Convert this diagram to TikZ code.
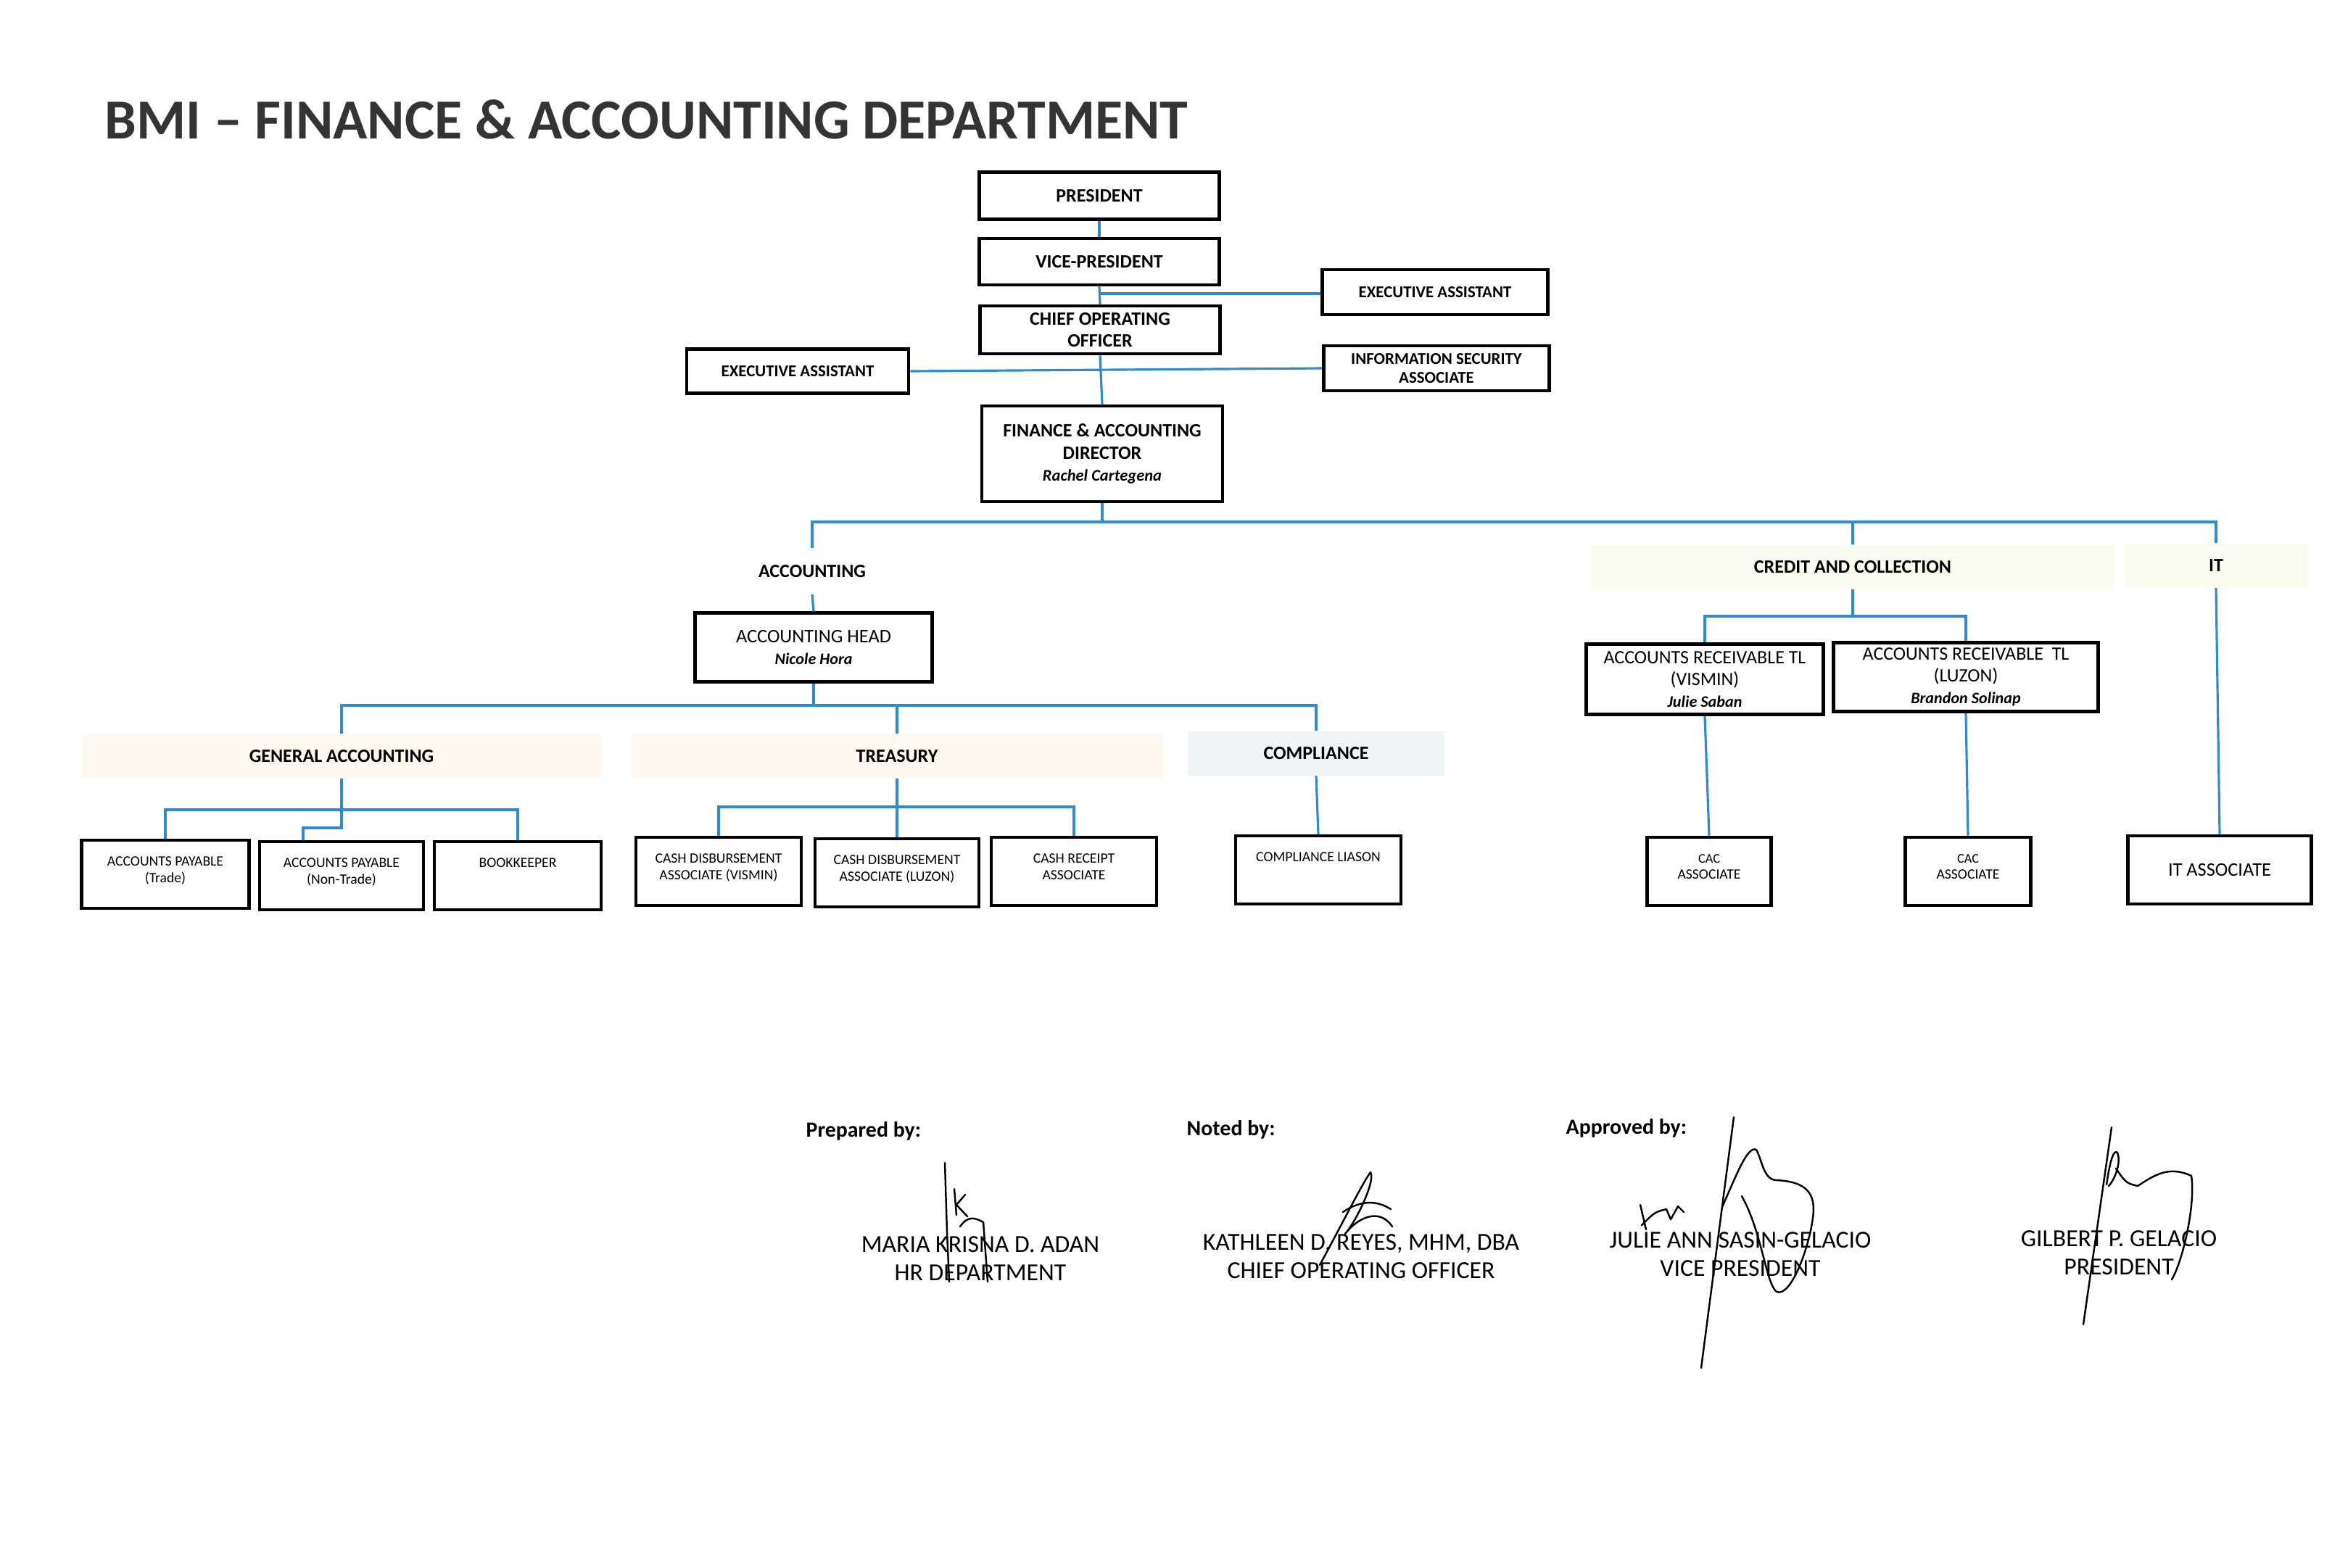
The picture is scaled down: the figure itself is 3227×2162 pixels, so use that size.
\documentclass[tikz,border=0pt]{standalone}
\usepackage{fontspec}
\setmainfont{Carlito}
\usetikzlibrary{calc}

\definecolor{lnkblue}{RGB}{46,139,208}
\definecolor{titlegray}{RGB}{52,52,52}
\definecolor{peachfill}{RGB}{254,248,241}
\definecolor{mistfill}{RGB}{239,244,246}
\definecolor{creamfill}{RGB}{252,251,242}

\begin{document}
\begin{tikzpicture} [x=0.1mm, y=-0.1mm,
  box/.style 2 args={draw, line width=1.3pt, minimum width=#1*0.1mm, minimum height=#2*0.1mm, inner sep=1pt, align=center},
  band/.style 2 args={fill=#1, minimum width=#2*0.1mm, minimum height=6.1mm, inner sep=0pt, font=\bfseries\fontsize{7.4}{8.5}\selectfont},
  hdtxt/.style={font=\bfseries\fontsize{7.4}{8.7}\selectfont},
  smtxt/.style={font=\bfseries\fontsize{6.5}{7.6}\selectfont},
  lowlbl/.style={anchor=north, yshift=-1.3mm, align=center, font=\fontsize{5.6}{6.5}\selectfont},
  lowbox/.style={label={[lowlbl]north:{#1}}},
  lnk/.style={draw=lnkblue, line width=0.9pt},
  sig/.style={line width=0.7pt, line cap=round, line join=round}]

\useasboundingbox (0,0) rectangle (3227,2162);

\node[anchor=west, inner sep=0pt, text=titlegray, font=\bfseries\fontsize{22.2}{27}\selectfont] (title) at (144,165) {BMI – FINANCE \& ACCOUNTING DEPARTMENT};

\node[box={331}{65}, hdtxt] (pres) at (1516,270) {PRESIDENT};
\node[box={331}{64}, hdtxt] (vp) at (1516,361) {VICE-PRESIDENT};
\node[box={331}{66}, hdtxt] (coo) at (1517,455) {CHIEF OPERATING\\OFFICER};
\node[box={311}{62}, smtxt] (eaR) at (1979,403) {EXECUTIVE ASSISTANT};
\node[box={311}{62}, smtxt] (isa) at (1981,508) {INFORMATION SECURITY\\ASSOCIATE};
\node[box={306}{61}, smtxt] (eaL) at (1100,512) {EXECUTIVE ASSISTANT};
\node[box={332}{132}, hdtxt] (dir) at (1520,626) {FINANCE \& ACCOUNTING\\DIRECTOR\\{\fontsize{6.4}{8}\selectfont\itshape Rachel Cartegena}};

\node[inner sep=0pt, minimum height=6.2mm, font=\bfseries\fontsize{7.4}{8.5}\selectfont] (acc) at (1120,788) {ACCOUNTING};
\node[box={327}{95}, font=\fontsize{7.5}{8.8}\selectfont] (ahead) at (1122,893) {ACCOUNTING HEAD\\{\bfseries\itshape\fontsize{6.3}{8}\selectfont Nicole Hora}};

\node[band={peachfill}{716}] (ga) at (471,1043) {GENERAL ACCOUNTING};
\node[band={peachfill}{732}] (tr) at (1237,1043) {TREASURY};
\node[band={mistfill}{354}] (cp) at (1815,1039) {COMPLIANCE};
\node[band={creamfill}{722}] (cc) at (2555,782) {CREDIT AND COLLECTION};
\node[band={creamfill}{253}] (it) at (3056,780) {IT};

\node[box={231}{94}, lowbox={ACCOUNTS PAYABLE\\(Trade)}] (apt) at (228,1206) {};
\node[box={226}{94}, lowbox={ACCOUNTS PAYABLE\\(Non-Trade)}] (apn) at (471,1208) {};
\node[box={230}{94}, lowbox={BOOKKEEPER}] (bkp) at (714,1208) {};
\node[box={228}{94}, lowbox={CASH DISBURSEMENT\\ASSOCIATE (VISMIN)}] (cdv) at (991,1202) {};
\node[box={226}{94}, lowbox={CASH DISBURSEMENT\\ASSOCIATE (LUZON)}] (cdl) at (1237,1204) {};
\node[box={228}{94}, lowbox={CASH RECEIPT\\ASSOCIATE}] (crc) at (1481,1202) {};
\node[box={228}{94}, lowbox={COMPLIANCE LIASON}] (cpl) at (1818,1200) {};

\node[box={327}{97}, font=\fontsize{7.4}{8.6}\selectfont] (arv) at (2351,937) {ACCOUNTS RECEIVABLE TL\\(VISMIN)\\{\bfseries\itshape\fontsize{6.3}{7}\selectfont Julie Saban}};
\node[box={365}{95}, font=\fontsize{7.4}{8.6}\selectfont] (arl) at (2711,934) {ACCOUNTS RECEIVABLE\ \ TL\\(LUZON)\\{\bfseries\itshape\fontsize{6.3}{7}\selectfont Brandon Solinap}};
\node[box={171}{94}, lowbox={\fontsize{5.2}{6.3}\selectfont CAC\\ASSOCIATE}] (cac1) at (2357,1202) {};
\node[box={173}{94}, lowbox={\fontsize{5.2}{6.3}\selectfont CAC\\ASSOCIATE}] (cac2) at (2714,1202) {};
\node[box={253}{94}, font=\fontsize{7.5}{8}\selectfont] (ita) at (3061,1200) {IT ASSOCIATE};

\foreach \a/\b in {pres/vp, vp/coo, coo/dir, acc/ahead, tr/cdl, cp/cpl, arv/cac1, arl/cac2, it/ita}
 \draw[lnk] (\a.south) -- (\b.north);

\coordinate (ea) at (1517,405);
\draw[lnk] (ea) -- (ea -| eaR.west);
\draw[lnk] (eaL.east) -- (isa.west);
\coordinate (busL) at (1120,720);
\draw[lnk] (dir.south) -- (dir.south |- busL);
\draw[lnk] (acc.north) |- (it.north |- busL) -- (it.north);
\draw[lnk] (cc.north |- busL) -- (cc.north);
\coordinate (ccb) at (2555,850);
\draw[lnk] (cc.south) -- (ccb);
\draw[lnk] (arv.north) |- (ccb) -| (arl.north);

\coordinate (accb) at (1122,973);
\draw[lnk] (ahead.south) -- (accb);
\draw[lnk] (ga.north) |- (accb) -| (cp.north);
\draw[lnk] (tr.north |- accb) -- (tr.north);
\coordinate (gab) at (471,1117);
\draw[lnk] (ga.south) -- (gab);
\draw[lnk] (apt.north) |- (gab) -| (bkp.north);
\draw[lnk] (gab) -- ++(0,25) -| ([xshift=-5.3mm]apn.north);
\coordinate (trb) at (1237,1113);
\draw[lnk] (cdv.north) |- (trb) -| (crc.north);

\node[anchor=west, inner sep=0pt, font=\bfseries\fontsize{8.5}{10}\selectfont] (prep) at (1111,1560) {Prepared by:};
\node[anchor=west, inner sep=0pt, font=\bfseries\fontsize{8.5}{10}\selectfont] (noted) at (1636,1558) {Noted by:};
\node[anchor=west, inner sep=0pt, font=\bfseries\fontsize{8.5}{10}\selectfont] (appr) at (2159,1556) {Approved by:};
\node[align=center, font=\fontsize{9.6}{11.1}\selectfont] (maria) at (1352,1736) {MARIA KRISNA D. ADAN\\HR DEPARTMENT};
\node[align=center, font=\fontsize{9.6}{11.1}\selectfont] (kath) at (1877,1733) {KATHLEEN D. REYES, MHM, DBA\\CHIEF OPERATING OFFICER};
\node[align=center, font=\fontsize{9.6}{11.1}\selectfont] (julie) at (2400,1730) {JULIE ANN SASIN-GELACIO\\VICE PRESIDENT};
\node[align=center, font=\fontsize{9.6}{11.1}\selectfont] (gil) at (2922,1728) {GILBERT P. GELACIO\\PRESIDENT};

\draw[sig] (1303,1604) -- (1306,1700) -- (1309,1768);
\draw[sig] (1316,1640) -- (1319,1676) (1319,1662) -- (1331,1648) (1319,1662) -- (1334,1678);
\draw[sig] (1324,1692) .. controls (1335,1676) and (1345,1680) .. (1356,1686) -- (1362,1768);
\draw[sig] (1820,1745) .. controls (1850,1690) and (1880,1630) .. (1890,1617) .. controls (1897,1628) and (1872,1682) .. (1855,1702) .. controls (1872,1680) and (1902,1665) .. (1920,1692);
\draw[sig] (1852,1672) .. controls (1875,1656) and (1898,1655) .. (1918,1668);
\draw[sig] (2391,1541) -- (2346,1887);
\draw[sig] (2375,1665) .. controls (2395,1620) and (2410,1580) .. (2422,1586) .. controls (2430,1600) and (2432,1628) .. (2450,1628) .. controls (2490,1630) and (2505,1645) .. (2500,1680) .. controls (2495,1720) and (2470,1790) .. (2450,1782) .. controls (2435,1770) and (2430,1700) .. (2402,1650);
\draw[sig] (2262,1662) -- (2270,1696) (2264,1690) .. controls (2282,1672) .. (2298,1668) -- (2304,1682) -- (2314,1664) -- (2322,1672);
\draw[sig] (2912,1555) -- (2873,1827);
\draw[sig] (2905,1634) .. controls (2910,1600) and (2915,1585) .. (2920,1590) .. controls (2925,1602) and (2918,1625) .. (2908,1636);
\draw[sig] (2918,1612) .. controls (2932,1632) .. (2948,1636) .. controls (2972,1620) and (2992,1608) .. (3022,1622) .. controls (3028,1662) and (3010,1740) .. (2995,1765);

\end{tikzpicture}
\end{document}
